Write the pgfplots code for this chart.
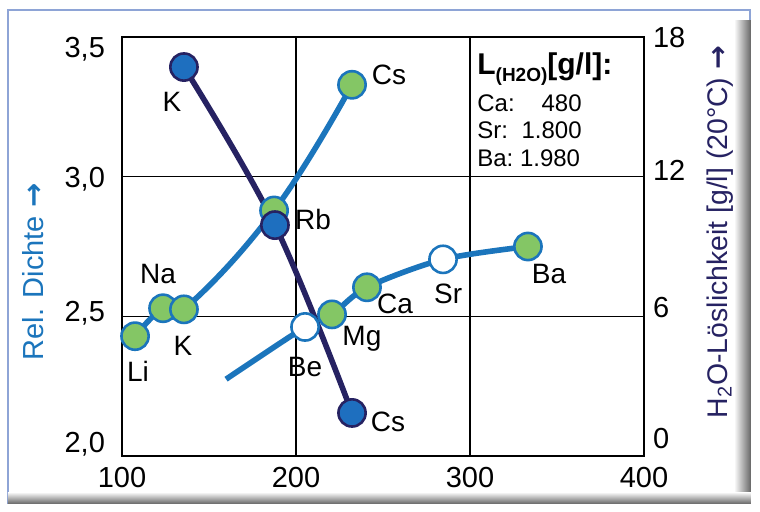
\documentclass[border=0pt]{standalone}
\usepackage{pgfplots}
\pgfplotsset{compat=1.18}
\usepackage{fontspec}
\setmainfont{Liberation Sans}
\newfontfamily\arrowfont{DejaVu Sans}
\definecolor{lblue}{HTML}{1B75BC}
\definecolor{navy}{HTML}{262262}
\definecolor{mblue}{HTML}{1E6FBF}
\definecolor{lgreen}{HTML}{84C665}
\definecolor{frameblue}{HTML}{8EA4D6}
\newcommand\yl[2]{\smash{\raisebox{#1}{#2}}}
\newcommand\arr{{\arrowfont\bfseries →}}
\pgfplotsset{
  base/.style={at={(0,0)}, anchor=south west, scale only axis,
    width=261pt, height=209.5pt, xmin=100, xmax=400, clip=false},
  leftscale/.style={base, ymin=2, ymax=3.5},
  rightscale/.style={base, ymin=0, ymax=18},
}
\begin{document}
\begin{tikzpicture}
\useasboundingbox (-61pt,-27.5pt) rectangle (319pt,228pt);
\fill[white] (-61pt,-27.5pt) rectangle (319pt,228pt);
\draw[frameblue, line width=0.7pt] (-57pt,-23.5pt) rectangle (314pt,223pt);
\shade[left color=white, right color=black!60] (306pt,-23.5pt) rectangle (314.4pt,218pt);
\shade[top color=white, bottom color=black!60] (-57pt,-23.9pt) rectangle (314.4pt,-18pt);
% axis 1: left scale, frame, grid, density lines
\begin{axis}[
  leftscale,
  xtick={100,200,300,400}, xticklabels={100,200,300,400},
  ytick={2,2.5,3,3.5},
  yticklabels={\yl{2.0pt}{2,0},\yl{-2.6pt}{2,5},\yl{-5.2pt}{3,0},\yl{-10.2pt}{3,5}},
  xtick pos=bottom, ytick pos=left,
  grid=major, major grid style={black, line width=0.7pt},
  axis line style={black, line width=1.3pt},
  major tick length=0pt,
  tick label style={font=\fontsize{14.5}{14.5}\selectfont},
  yticklabel style={xshift=-5pt},
  xticklabel style={yshift=-2pt},
]
% alkali metals: density
\addplot[lblue, line width=2.8pt, smooth, tension=0.75] coordinates {
  (107.5,2.429) (123.6,2.529) (135.6,2.525) (187.4,2.879) (232.2,3.329)};
% alkaline earth metals: density (line starts without mark)
\addplot[lblue, line width=2.8pt, smooth, tension=0.5] coordinates {
  (159.8,2.275) (205.2,2.462) (220.7,2.507) (240.8,2.604) (284.5,2.704) (333.3,2.750)};
\end{axis}
% axis 2: right scale, solubility line
\begin{axis}[
  rightscale,
  axis x line=none, axis y line*=right,
  axis line style={draw=none},
  ytick={0,6,12,18},
  yticklabels={\yl{4.0pt}{0},\yl{-0.7pt}{6},\yl{-1.7pt}{12},\yl{-5.2pt}{18}},
  major tick length=0pt,
  tick label style={font=\fontsize{14.5}{14.5}\selectfont},
  yticklabel style={xshift=1pt},
]
\addplot[navy, line width=2.8pt, smooth, tension=0.6] coordinates {
  (135.6,16.71) (187.9,9.92) (232.2,1.85)};
\end{axis}
% axis 3: left scale, density markers and labels
\begin{axis}[leftscale, hide axis]
\addplot[only marks, mark=*, mark size=6.8pt, mark options={fill=lgreen, draw=lblue, line width=1.3pt}] coordinates {
  (107.5,2.429) (123.6,2.529) (135.6,2.525) (187.4,2.879) (232.2,3.329)
  (220.7,2.507) (240.8,2.604) (333.3,2.750)};
\addplot[only marks, mark=*, mark size=6.8pt, mark options={fill=white, draw=lblue, line width=1.3pt}] coordinates {
  (205.2,2.462) (284.5,2.704)};
\begin{scope}[every node/.style={font=\fontsize{14}{14}\selectfont, inner sep=0pt}]
\node at (axis cs:253.4,3.364) {Cs};
\node at (axis cs:128.7,3.268) {K};
\node at (axis cs:209.8,2.846) {Rb};
\node at (axis cs:252.9,2.121) {Cs};
\node at (axis cs:120.7,2.65) {Na};
\node at (axis cs:135.1,2.396) {K};
\node at (axis cs:109.2,2.304) {Li};
\node at (axis cs:205.2,2.318) {Be};
\node at (axis cs:237.9,2.421) {Mg};
\node at (axis cs:256.9,2.543) {Ca};
\node at (axis cs:287.4,2.579) {Sr};
\node at (axis cs:345.4,2.65) {Ba};
\end{scope}
\node[anchor=base west, inner sep=0pt, font=\bfseries\fontsize{15}{15}\selectfont] at (axis cs:304,3.364)
  {L\raisebox{-3.5pt}{\fontsize{9.5}{9.5}\selectfont(H2O)}[g/l]:};
\begin{scope}[every node/.style={font=\fontsize{12}{12}\selectfont, inner sep=0pt}]
\node[anchor=base west] at (axis cs:304,3.232) {Ca:};
\node[anchor=base west] at (axis cs:304,3.136) {Sr:};
\node[anchor=base west] at (axis cs:304,3.036) {Ba:};
\node[anchor=base east] at (axis cs:364.4,3.232) {480};
\node[anchor=base east] at (axis cs:364.4,3.136) {1.800};
\node[anchor=base east] at (axis cs:363.5,3.036) {1.980};
\end{scope}
\end{axis}
% axis 4: right scale, solubility markers
\begin{axis}[rightscale, hide axis]
\addplot[only marks, mark=*, mark size=6.8pt, mark options={fill=mblue, draw=navy, line width=1.3pt}] coordinates {
  (135.6,16.71) (187.9,9.92) (232.2,1.85)};
\end{axis}
\node[rotate=90, text=lblue, font=\fontsize{14.5}{14.5}\selectfont] at (-44.5pt,92pt) {Rel. Dichte \arr};
\node[rotate=90, text=navy, font=\fontsize{14.2}{14.2}\selectfont] at (299pt,112pt)
  {H\textsubscript{2}O-Löslichkeit [g/l] (20°C) \arr};
\end{tikzpicture}
\end{document}
